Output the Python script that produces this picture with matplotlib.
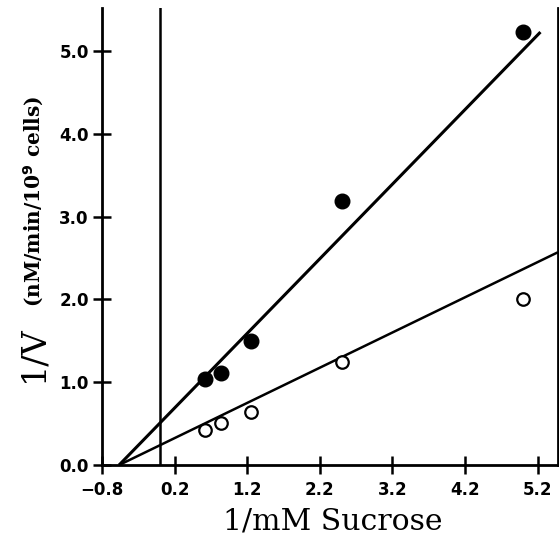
import matplotlib.pyplot as plt

# datos (1/mM sacarosa frente a 1/V)
x_puntos = [0.625, 0.833, 1.25, 2.5, 5.0]
y_llenos = [1.04, 1.11, 1.50, 3.19, 5.23]
y_vacios = [0.42, 0.51, 0.64, 1.24, 2.00]

# rectas ajustadas (extremos)
x_recta_llenos = [-0.565, 5.24]
y_recta_llenos = [0.0, 5.23]
x_recta_vacios = [-0.565, 5.48]
y_recta_vacios = [0.0, 2.57]

x_ticks = [-0.8, 0.2, 1.2, 2.2, 3.2, 4.2, 5.2]
x_etiquetas = ["\u22120.8", "0.2", "1.2", "2.2", "3.2", "4.2", "5.2"]
y_ticks = [0.0, 1.0, 2.0, 3.0, 4.0, 5.0]

fig = plt.figure(figsize=(5.59, 5.37), dpi=100)
ax = fig.add_axes([0.1825, 0.134, 0.8155, 0.851])

ax.plot(x_recta_llenos, y_recta_llenos, color="black", lw=2.2, solid_capstyle="butt")
ax.plot(x_recta_vacios, y_recta_vacios, color="black", lw=1.8, solid_capstyle="butt")
ax.axvline(0, color="black", lw=1.8)

ax.plot(x_puntos, y_llenos, "o", color="black", markersize=10.5, zorder=5)
ax.plot(x_puntos, y_vacios, "o", markerfacecolor="white", markeredgecolor="black",
        markeredgewidth=1.6, markersize=9, zorder=5)

ax.set_xlim(-0.8, 5.48)
ax.set_ylim(0, 5.52)
ax.set_xticks(x_ticks)
ax.set_xticklabels(x_etiquetas)
ax.set_yticks(y_ticks)
ax.set_yticklabels(["%.1f" % v for v in y_ticks])

ax.spines["top"].set_visible(False)
for s in ["left", "bottom", "right"]:
    ax.spines[s].set_linewidth(2)
ax.tick_params(direction="inout", length=13, width=1.8, labelsize=12)
ax.tick_params(axis="x", pad=5)
ax.tick_params(axis="y", pad=3)
for lab in ax.get_xticklabels() + ax.get_yticklabels():
    lab.set_fontweight("bold")

# etiquetas de los ejes
fig.text(0.596, 0.028, "1/mM Sucrose", fontsize=21.5, family="DejaVu Serif",
         ha="center", va="center")
fig.text(0.060, 0.341, "1/V", rotation=90, fontsize=24,
         family="DejaVu Serif", ha="center", va="center")
fig.text(0.060, 0.626, r"(nM/min/10$^{\mathbf{9}}$ cells)", rotation=90, fontsize=14.5,
         fontweight="bold", family="DejaVu Serif", ha="center", va="center")

fig.savefig("out.png", dpi=100)
